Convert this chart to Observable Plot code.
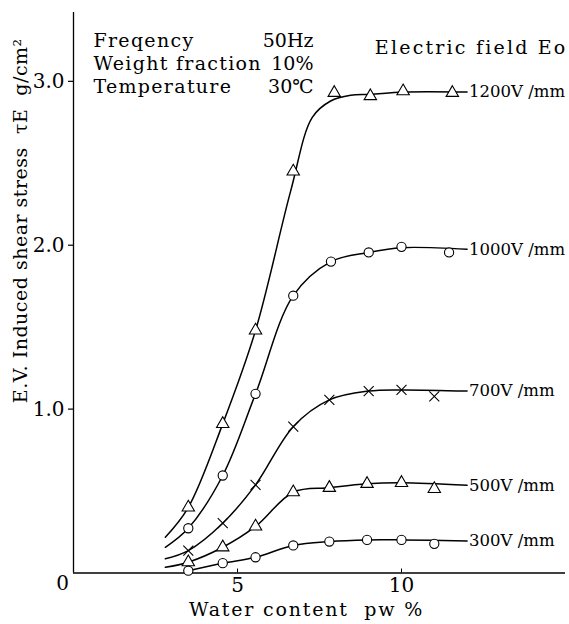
<!DOCTYPE html>
<html><head><meta charset="utf-8">
<script src="https://cdn.jsdelivr.net/npm/d3@7"></script>
<script src="https://cdn.jsdelivr.net/npm/@observablehq/plot@0.6"></script>
<style>body{margin:0;background:#fff} svg{display:block}</style>
</head><body><div id="chart"></div>
<script>
// Series (electric field Eo)
const fields = ["1200V /mm", "1000V /mm", "700V /mm", "500V /mm", "300V /mm"];
const symbols = ["triangle", "circle", "times", "triangle", "circle"];

// Measured points (water content pw %, shear stress g/cm2)
const x1200 = [3.5, 4.55, 5.55, 6.7, 7.95, 9.05, 10.05, 11.55];
const y1200 = [0.40, 0.91, 1.48, 2.45, 2.93, 2.91, 2.94, 2.93];
const x1000 = [3.5, 4.55, 5.55, 6.7, 7.85, 9.0, 10.0, 11.45];
const y1000 = [0.273, 0.595, 1.093, 1.692, 1.90, 1.956, 1.99, 1.956];
const x700 = [3.5, 4.55, 5.55, 6.7, 7.8, 9.0, 10.0, 11.0];
const y700 = [0.137, 0.304, 0.538, 0.893, 1.056, 1.11, 1.117, 1.078];
const x500 = [3.5, 4.55, 5.55, 6.7, 7.8, 8.95, 10.0, 11.0];
const y500 = [0.066, 0.157, 0.284, 0.493, 0.52, 0.544, 0.55, 0.513];
const x300 = [3.5, 4.55, 5.55, 6.7, 7.8, 8.95, 10.0, 11.0];
const y300 = [0.014, 0.06, 0.096, 0.168, 0.192, 0.202, 0.202, 0.178];

// Fitted curves as drawn
const cx1200 = [2.8, 3.5, 4.55, 5.55, 6.62, 7.28, 7.84, 8.45, 9.05, 10.05, 12.0];
const cy1200 = [0.218, 0.40, 0.91, 1.48, 2.33, 2.78, 2.88, 2.915, 2.92, 2.935, 2.935];
const cx1000 = [2.8, 3.5, 4.55, 5.55, 6.7, 7.85, 9.0, 10.0, 12.0];
const cy1000 = [0.157, 0.273, 0.595, 1.093, 1.692, 1.90, 1.956, 1.985, 1.975];
const cx700 = [2.8, 3.5, 4.55, 5.55, 6.7, 7.8, 9.0, 10.0, 12.0];
const cy700 = [0.087, 0.137, 0.304, 0.538, 0.893, 1.056, 1.11, 1.117, 1.11];
const cx500 = [2.8, 3.5, 4.55, 5.55, 6.7, 7.8, 8.95, 10.0, 12.0];
const cy500 = [0.035, 0.066, 0.157, 0.284, 0.493, 0.52, 0.544, 0.55, 0.535];
const cx300 = [3.5, 4.55, 5.55, 6.7, 7.8, 8.95, 10.0, 12.0];
const cy300 = [0.014, 0.06, 0.096, 0.168, 0.192, 0.202, 0.202, 0.195];

// Axis ticks
const xTickValues = [5, 10];
const yTickValues = [1, 2, 3];
const originLabel = "0";

// Annotation texts
const conditionNames = ["Freqency", "Weight fraction", "Temperature"];
const conditionValues = ["50Hz", "10%", "30℃"];
const fieldTitle = "Electric field Eo";
const xLabel = "Water content  pw %";
const yLabel = "E.V. Induced shear stress  τE  g/cm²";

const markerX = [x1200, x1000, x700, x500, x300];
const markerY = [y1200, y1000, y700, y500, y300];
const curveX = [cx1200, cx1000, cx700, cx500, cx300];
const curveY = [cy1200, cy1000, cy700, cy500, cy300];

const markers = fields.flatMap((f, i) => markerX[i].map((x, j) => ({field: f, x, y: markerY[i][j]})));
const curves = fields.flatMap((f, i) => curveX[i].map((x, j) => ({field: f, x, y: curveY[i][j]})));
const labels = fields.map((f, i) => ({field: f, x: curveX[i][curveX[i].length - 1], y: curveY[i][curveY[i].length - 1]}));

const font = "DejaVu Serif";

const chart = Plot.plot({
  width: 569,
  height: 624,
  marginLeft: 73,
  marginRight: 4,
  marginTop: 12,
  marginBottom: 51.5,
  style: {fontFamily: font, background: "white", color: "black"},
  x: {domain: [0, 15]},
  y: {domain: [0, 3.42]},
  symbol: {domain: fields, range: symbols},
  marks: [
    Plot.ruleX([0], {stroke: "black", strokeWidth: 1.3}),
    Plot.ruleY([0], {stroke: "black", strokeWidth: 1.3}),
    Plot.axisY(yTickValues, {
      tickSize: 5, tickPadding: 4, fontSize: 20, label: null,
      tickFormat: d => d.toFixed(1), strokeWidth: 1.2
    }),
    Plot.axisX(xTickValues, {
      tickSize: -4, tickPadding: 9, fontSize: 20, label: null, strokeWidth: 1
    }),
    Plot.text([originLabel], {x: 0, y: 0, dx: -11, dy: 11, fontSize: 20}),
    Plot.line(curves, {x: "x", y: "y", z: "field", curve: "catmull-rom", stroke: "black", strokeWidth: 1.5}),
    Plot.dot(markers, {x: "x", y: "y", symbol: "field", r: 4.6, fill: "white", stroke: "black", strokeWidth: 1.1}),
    Plot.text(labels, {x: "x", y: "y", text: "field", textAnchor: "start", dx: 2, fontSize: 16.5}),
    Plot.text([conditionNames.join("\n")], {frameAnchor: "top-left", dx: 20, dy: 18.5, lineAnchor: "top", lineHeight: 1.21, fontSize: 19, textAnchor: "start"}),
    Plot.text([conditionValues.join("\n")], {frameAnchor: "top-left", dx: 240, dy: 18.5, lineAnchor: "top", lineHeight: 1.21, fontSize: 19, textAnchor: "end"}),
    Plot.text([fieldTitle], {frameAnchor: "top-right", dx: 2, dy: 35, lineAnchor: "middle", textAnchor: "end", fontSize: 19}),
    Plot.text([xLabel], {frameAnchor: "bottom", dx: -13, dy: 36.5, lineAnchor: "middle", textAnchor: "middle", fontSize: 19}),
    Plot.text([yLabel], {frameAnchor: "left", dx: -53, dy: -72, rotate: -90, lineAnchor: "middle", textAnchor: "middle", fontSize: 19})
  ]
});

// Wide letter spacing of the original typesetting
const spacing = new Map([
  [conditionNames.join(""), 1.3],
  [fieldTitle, 2.2],
  [xLabel, 1.8],
  [yLabel, 0.5]
]);
d3.select(chart).selectAll("text").each(function() {
  const s = spacing.get(this.textContent);
  if (s != null) this.setAttribute("letter-spacing", s);
});

document.getElementById("chart").appendChild(chart);
</script>
</body></html>
